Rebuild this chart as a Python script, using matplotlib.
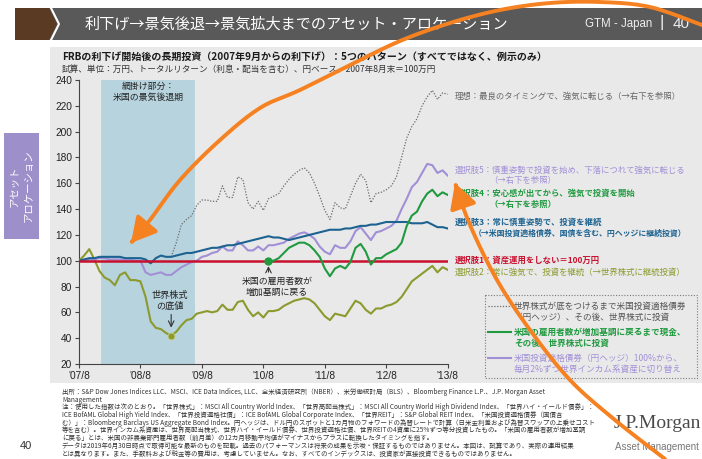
import numpy as np
import matplotlib.pyplot as plt
from matplotlib.patches import Rectangle, Polygon, FancyArrowPatch
from matplotlib.path import Path

plt.rcParams['font.family'] = ['Noto Sans CJK JP', 'DejaVu Sans']

W, H = 702, 459

# x axis: months since 2007/8 (0 .. 72)
tick_labels = ["'07/8", "'08/8", "'09/8", "'10/8", "'11/8", "'12/8", "'13/8"]
y_ticks = [20, 40, 60, 80, 100, 120, 140, 160, 180, 200, 220, 240]
recession = (4.3, 22.6)  # Dec 2007 - Jun 2009

# values in 10k yen, 2007/8 end = 100
cash_level = 100
equity = [100, 104, 109, 101, 92, 87, 85, 81, 89, 91,
          85, 85, 84, 72, 53, 48, 47, 44, 42, 45,
          50, 54, 55, 59, 60, 61, 60, 61, 66, 62,
          62, 68, 69, 62, 57, 60, 56, 61, 61, 62,
          65, 67, 69, 70, 71, 70, 67, 62, 57, 54,
          59, 58, 57, 63, 69, 67, 62, 59, 63, 63,
          65, 66, 68, 72, 78, 84, 87, 90, 93, 96,
          91, 95, 93]
bonds = [100, 101, 102, 102, 103, 103, 103, 103, 103, 102,
         102, 102, 102, 101, 98, 102, 104, 103, 103, 104,
         105, 106, 106, 107, 108, 109, 110, 110, 111, 112,
         112, 113, 114, 115, 116, 117, 118, 119, 118, 118,
         117, 116, 117, 118, 119, 120, 121, 122, 123, 124,
         124, 124, 125, 125, 126, 127, 127, 128, 128, 129,
         130, 130, 130, 130, 130, 129, 129, 129, 130, 128,
         126, 126, 125]
gradual = [100, 100, 101, 101, 102, 102, 101, 101, 101, 101,
           101, 100, 100, 91, 89, 90, 91, 89, 89, 92,
           95, 97, 99, 100, 103, 104, 106, 107, 111, 108,
           108, 115, 112, 108, 108, 111, 108, 112, 112, 113,
           114, 117, 119, 121, 122, 120, 117, 111, 107, 105,
           112, 110, 110, 115, 123, 126, 121, 116, 122, 123,
           125, 127, 131, 140, 148, 157, 161, 168, 175, 174,
           168, 170, 166]
# cash until payrolls turn up (month 37), then equities
employ_start = 37
employ = [100, 100, 102, 106, 110, 112, 114, 114, 112, 108,
          103, 94, 88, 94, 96, 94, 99, 110, 113, 107,
          97, 102, 102, 105, 107, 109, 114, 127, 135, 138,
          146, 152, 155, 150, 153, 151]
# bonds until the equity bottom (month 18), then equities
ideal_start = 18
ideal = [103, 114, 128, 132, 135, 143, 147, 147, 146, 146,
         158, 149, 149, 165, 163, 145, 140, 146, 139, 148,
         150, 152, 158, 163, 167, 170, 172, 168, 160, 150,
         139, 132, 145, 141, 140, 150, 160, 167, 162, 145,
         152, 153, 155, 158, 165, 180, 195, 204, 210, 220,
         227, 232, 225, 230, 229]

C_RED = '#c8102e'
C_BLUE = '#1d6391'
C_PURPLE = '#a290d6'
C_GREEN = '#1f9a3f'
C_OLIVE = '#8c9a2d'
C_GRAY = '#6b6b6b'
C_ORANGE = '#f68121'

fig = plt.figure(figsize=(W / 100, H / 100), dpi=100)

# background layer in pixel coordinates
bg = fig.add_axes([0, 0, 1, 1], zorder=0)
bg.set_xlim(0, W)
bg.set_ylim(H, 0)
bg.axis('off')
bg.add_patch(Rectangle((50, 47), 652, 336, color='#e9e9e9', lw=0))
bg.add_patch(Rectangle((15, 8), 687, 32, color='#595959', lw=0))
bg.add_patch(Polygon([(15, 8), (49, 8), (57, 24), (49, 40), (15, 40)], color='#5b3a24', lw=0))
bg.plot([51, 59, 51], [8, 24, 40], color='white', lw=1.5)
bg.text(85, 24, '利下げ→景気後退→景気拡大までのアセット・アロケーション', color='white',
        fontsize=10.9, va='center')
bg.text(585, 24, 'GTM - Japan', color='#eeeeee', fontsize=8.3, va='center', family='Liberation Sans')
bg.text(662, 23, '|', color='#eeeeee', fontsize=12, va='center', ha='center', family='Liberation Sans')
bg.text(673, 24, '40', color='#eeeeee', fontsize=11, va='center', family='Liberation Sans')

bg.add_patch(Rectangle((4, 133), 35, 106, color='#9c8fca', lw=0))
bg.text(22, 186, 'アセット\nアロケーション', color='white', fontsize=7.5, rotation=90,
        ha='center', va='center', multialignment='center', linespacing=1.4)

bg.text(62, 57, 'FRBの利下げ開始後の長期投資（2007年9月からの利下げ）：5つのパターン（すべてではなく、例示のみ）',
        fontsize=7.2, fontweight='bold', va='center', color='#1a1a1a')
bg.text(62, 69, '試算、単位：万円、トータルリターン（利息・配当を含む）、円ベース、2007年8月末＝100万円',
        fontsize=6.2, va='center', color='#333333')

# main chart
ax = fig.add_axes([79 / W, 1 - 364 / H, (447.7 - 79) / W, (364 - 80) / H], zorder=3)
ax.patch.set_alpha(0)
months = np.arange(len(equity))
ax.axvspan(*recession, color='#b7d3dd', lw=0, zorder=0)
ax.text(sum(recession) / 2, 230.5, '網掛け部分：\n米国の景気後退期', ha='center', va='center',
        fontsize=6.4, color='#222222', linespacing=1.3)

ax.plot(months[ideal_start:], ideal, color=C_GRAY, lw=0.9, ls=(0, (1, 1.3)), zorder=2)
ax.plot(months, equity, color=C_OLIVE, lw=1.5, zorder=3)
ax.plot(months, gradual, color=C_PURPLE, lw=1.5, zorder=3)
ax.plot(months, bonds, color=C_BLUE, lw=1.5, zorder=4)
ax.axhline(cash_level, color=C_RED, lw=1.8, zorder=4.5)
ax.plot(months[employ_start:], employ, color=C_GREEN, lw=1.5, zorder=5)

bottom = int(np.argmin(equity))
ax.plot(bottom, equity[bottom], 'o', color=C_OLIVE, ms=5, mec='#c9d08a', mew=0.6, zorder=6)
ax.plot(employ_start, employ[0], 'o', color=C_GREEN, ms=5, zorder=6)
ax.annotate('', xy=(bottom, equity[bottom] + 4), xytext=(bottom, 60.5),
            arrowprops=dict(arrowstyle='->', color='#333333', lw=0.8))
ax.text(bottom - 0.2, 69, '世界株式\nの底値', ha='center', va='center', fontsize=6.6,
        color='#222222', linespacing=1.3)
ax.annotate('', xy=(employ_start, 98), xytext=(employ_start, 89),
            arrowprops=dict(arrowstyle='->', color='#333333', lw=0.8))
ax.text(38.7, 79.6, '米国の雇用者数が\n増加基調に戻る', ha='center', va='center', fontsize=6.4,
        color='#222222', linespacing=1.3)

ax.set_xlim(0, 72)
ax.set_ylim(20, 240)
ax.set_xticks(np.arange(0, 73, 12))
ax.set_xticklabels(tick_labels)
ax.set_yticks(y_ticks)
for s in ['top', 'right']:
    ax.spines[s].set_visible(False)
for s in ['left', 'bottom']:
    ax.spines[s].set_color('#444444')
    ax.spines[s].set_linewidth(0.8)
ax.tick_params(direction='out', length=3, width=0.8, colors='#444444', labelsize=7.3, pad=2,
               labelcolor='#222222')
for lab in ax.get_xticklabels() + ax.get_yticklabels():
    lab.set_family('Liberation Sans')

# line-end labels
lx = 73.3
fs = 6.0
ax.text(lx, 227, '理想：最良のタイミングで、強気に転じる（→右下を参照）', color='#666666',
        fontsize=fs, va='center', clip_on=False)
ax.text(lx, 170.3, '選択肢5：慎重姿勢で投資を始め、下落につれて強気に転じる', color=C_PURPLE,
        fontsize=fs, va='center', clip_on=False)
ax.text(80.2, 162, '（→右下を参照）', color=C_PURPLE, fontsize=fs, va='center', clip_on=False)
ax.text(lx, 152.2, '選択肢4：安心感が出てから、強気で投資を開始', color=C_GREEN,
        fontsize=fs, va='center', clip_on=False, fontweight='bold')
ax.text(80.2, 143.7, '（→右下を参照）', color=C_GREEN, fontsize=fs, va='center', clip_on=False,
        fontweight='bold')
ax.text(lx, 129.8, '選択肢3：常に慎重姿勢で、投資を継続', color=C_BLUE,
        fontsize=fs, va='center', clip_on=False, fontweight='bold')
ax.text(77.0, 121.3, '（→米国投資適格債券、国債を含む、円ヘッジに継続投資）', color=C_BLUE,
        fontsize=5.7, va='center', clip_on=False, fontweight='bold')
ax.text(lx, 100.5, '選択肢1：資産運用をしない＝100万円', color=C_RED,
        fontsize=fs, va='center', clip_on=False, fontweight='bold')
ax.text(lx, 91, '選択肢2：常に強気で、投資を継続（→世界株式に継続投資）', color=C_OLIVE,
        fontsize=fs, va='center', clip_on=False)

# explanatory box (bottom right)
bg.add_patch(Rectangle((485, 295), 212, 83, fill=False, ec='#7a7a7a', lw=0.8, ls=(0, (1, 1.5))))
box_items = [
    (306, '世界株式が底をつけるまで米国投資適格債券\n（円ヘッジ）、その後、世界株式に投資', C_GRAY, '#555555', (0, (1, 1.3)), 0.9),
    (332, '米国の雇用者数が増加基調に戻るまで現金、\nその後、世界株式に投資', C_GREEN, C_GREEN, '-', 1.5),
    (358, '米国投資適格債券（円ヘッジ）100%から、\n毎月2%ずつ世界インカム系資産に切り替え', C_PURPLE, C_PURPLE, '-', 1.5),
]
for yy, txt, lc, tc, ls, lw in box_items:
    bg.plot([488, 511], [yy, yy], color=lc, ls=ls, lw=lw)
    bg.text(514, yy - 4.5, txt, color=tc, fontsize=6.2, va='top', linespacing=1.35,
            fontweight='bold' if tc == C_GREEN else 'normal')

# footnotes
notes = [
    '出所：S&P Dow Jones Indices LLC、MSCI、ICE Data Indices, LLC、全米経済研究所（NBER）、米労働統計局（BLS）、Bloomberg Finance L.P.、J.P. Morgan Asset',
    'Management',
    '注：使用した指数は次のとおり。「世界株式」：MSCI All Country World Index、「世界高配当株式」：MSCI All Country World High Dividend Index、「世界ハイ・イールド債券」：',
    'ICE BofAML Global High Yield Index、「世界投資適格社債」：ICE BofAML Global Corporate Index、「世界REIT」：S&P Global REIT Index、「米国投資適格債券（国債含',
    'む）」：Bloomberg Barclays US Aggregate Bond Index。円ヘッジは、ドル円のスポットと1カ月物のフォワードの為替レートで計算（日米金利差および為替スワップの上乗せコスト',
    '等を含む）。世界インカム系資産は、世界高配当株式、世界ハイ・イールド債券、世界投資適格社債、世界REITの4資産に25%ずつ等分投資したもの。「米国の雇用者数が増加基調',
    'に戻る」とは、米国の非農業部門雇用者数（前月差）の12カ月移動平均値がマイナスからプラスに転換したタイミングを指す。',
    'データは2019年6月30日時点で取得可能な最新のものを記載。過去のパフォーマンスは将来の成果を示唆・保証するものではありません。本図は、試算であり、実際の運用結果',
    'とは異なります。また、手数料および税金等の費用は、考慮していません。なお、すべてのインデックスは、投資家が直接投資できるものではありません。',
]
for i, line in enumerate(notes):
    bg.text(62, 392 + i * 7.7, line, fontsize=4.65, va='center', color='#333333')

bg.text(20, 446, '40', fontsize=8, va='center', color='#333333', family='Liberation Sans')
bg.text(614, 428, 'J.P.Morgan', fontsize=14, color='#4a4a4a', family='Liberation Serif')
bg.text(615, 447, 'Asset Management', fontsize=7, color='#777777', va='center', family='Liberation Sans')


# hand-drawn orange arrows on top
def smooth(pts, n=12):
    p = np.array(pts, dtype=float)
    p = np.vstack([p[0], p, p[-1]])
    out = []
    for i in range(1, len(p) - 2):
        p0, p1, p2, p3 = p[i - 1], p[i], p[i + 1], p[i + 2]
        for t in np.linspace(0, 1, n, endpoint=False):
            out.append(0.5 * ((2 * p1) + (-p0 + p2) * t + (2 * p0 - 5 * p1 + 4 * p2 - p3) * t ** 2
                              + (-p0 + 3 * p1 - 3 * p2 + p3) * t ** 3))
    out.append(p[-2])
    return np.array(out)


over = fig.add_axes([0, 0, 1, 1], zorder=10)
over.set_xlim(0, W)
over.set_ylim(H, 0)
over.axis('off')
over.patch.set_alpha(0)
arcs = [
    [(702, 25), (650, 7), (600, 2), (550, 3), (500, 10), (450, 23), (400, 41), (350, 65),
     (300, 90), (260, 108), (220, 140), (180, 180), (150, 220), (131, 243)],
    [(665, 459), (615, 420), (570, 380), (530, 330), (497, 280), (470, 225), (455, 183)],
]
for pts in arcs:
    verts = smooth(pts)
    over.add_patch(FancyArrowPatch(path=Path(verts), arrowstyle='-|>,head_length=1.0,head_width=0.55',
                                   mutation_scale=15, color=C_ORANGE, lw=2.8))

fig.savefig('out.png', dpi=100, facecolor='white')
